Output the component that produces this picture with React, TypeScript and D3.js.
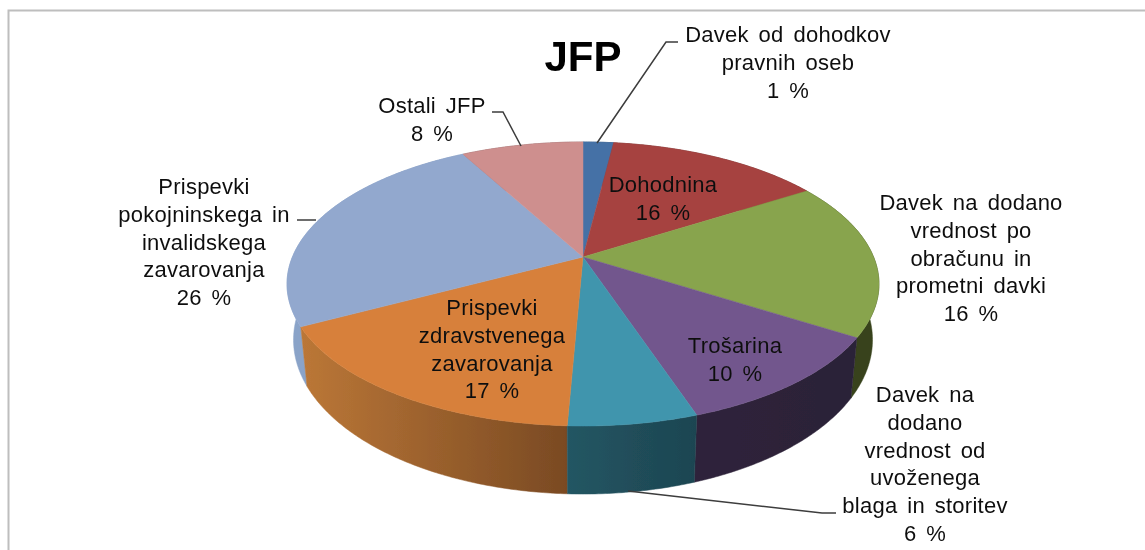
import * as d3 from 'd3';
import React from 'react';

const WIDTH = 1145;
const HEIGHT = 550;

const title = 'JFP';

const categories = [
  'Davek od dohodkov pravnih oseb',
  'Dohodnina',
  'Davek na dodano vrednost po obračunu in prometni davki',
  'Trošarina',
  'Davek na dodano vrednost od uvoženega blaga in storitev',
  'Prispevki zdravstvenega zavarovanja',
  'Prispevki pokojninskega in invalidskega zavarovanja',
  'Ostali JFP'
];

// printed on the labels
const percents = [1, 16, 16, 10, 6, 17, 26, 8];

// the slices as drawn do not quite follow the printed numbers, so these are read off the rim
const sliceShares = [2, 14.1, 17.8, 10.9, 5.9, 16.6, 24.7, 8];

const labelLines = [
  ['Davek od dohodkov', 'pravnih oseb'],
  ['Dohodnina'],
  ['Davek na dodano', 'vrednost po', 'obračunu in', 'prometni davki'],
  ['Trošarina'],
  ['Davek na', 'dodano', 'vrednost od', 'uvoženega', 'blaga in storitev'],
  ['Prispevki', 'zdravstvenega', 'zavarovanja'],
  ['Prispevki', 'pokojninskega in', 'invalidskega', 'zavarovanja'],
  ['Ostali JFP']
];

const topColors = ['#4471a6', '#a64341', '#88a44d', '#72578d', '#4095ad', '#d7803b', '#92a8ce', '#ce8f8e'];
const wallColors = [
  ['#2a4566', '#2a4566'],
  ['#662927', '#662927'],
  ['#3e4c1f', '#37431b'],
  ['#2f243b', '#2b2137'],
  ['#235663', '#1d4551'],
  ['#bb7737', '#7a4a23'],
  ['#8aa3c8', '#7c94b8'],
  ['#7e5756', '#7e5756']
];

// label placement: centre x and first baseline
const labelX = [788, 663, 971, 735, 925, 492, 204, 432];
const labelY = [42, 192, 210, 353, 402, 315, 194, 113];
const LINE_HEIGHT = 27.8;

const leaderLines = [
  [[678, 42], [666, 42], [597, 143]],
  [[836, 513], [822, 513], [628, 491]],
  [[297, 220], [316, 220]],
  [[492, 112], [503, 112], [521, 146]]
];

// pie apex on screen and perspective terms
const cx = 583;
const cy = 257;
const radius = 290.6;
const tiltY = 136.9;
const perspective = -0.19;

type Pt = [number, number];

const projectTop = (theta: number): Pt => {
  const u = Math.sin(theta);
  const v = -Math.cos(theta);
  const w = 1 + perspective * v;
  return [cx + (u * radius) / w, cy + (tiltY * v) / w];
};

const projectBottom = (theta: number): Pt => {
  const [x, y] = projectTop(theta);
  return [cx + (x - cx) * 0.978, y + 53.5 + 0.086 * (y - cy)];
};

const pieLayout = d3.pie<number>().sort(null).value((d) => d);
const arcs = pieLayout(sliceShares);
const path = d3.line<Pt>();

const sampleAngles = (start: number, end: number) => {
  const steps = Math.max(2, Math.ceil((end - start) / 0.01));
  return d3.range(steps + 1).map((i) => start + ((end - start) * i) / steps);
};

const topPath = (start: number, end: number) => {
  const rim = sampleAngles(start, end).map(projectTop);
  return path([[cx, cy], ...rim]) + 'Z';
};

const wallPath = (start: number, end: number) => {
  const angles = sampleAngles(start, end);
  return path([...angles.map(projectTop), ...angles.reverse().map(projectBottom)]) + 'Z';
};

// back walls first, so the nearer ones paint over them
const wallOrder = d3.range(arcs.length).sort((a, b) => {
  const mid = (i: number) => (arcs[i].startAngle + arcs[i].endAngle) / 2;
  return -Math.cos(mid(a)) - -Math.cos(mid(b));
});

const fontFamily = '"Liberation Sans", Arial, sans-serif';

export default function App() {
  return (
    <svg
      width={WIDTH}
      height={HEIGHT}
      style={{position: 'absolute', left: 0, top: 0, display: 'block', background: '#fff'}}>
      <defs>
        <filter id="soften" x="0" y="0" width="100%" height="100%">
          <feGaussianBlur stdDeviation={0.45} />
        </filter>
        {arcs.map((arc, i) => {
          const [x1] = projectTop(arc.startAngle);
          const [x2] = projectTop(arc.endAngle);
          return (
            <linearGradient
              key={i}
              id={`wall-${i}`}
              gradientUnits="userSpaceOnUse"
              x1={Math.min(x1, x2)}
              x2={Math.max(x1, x2)}
              y1={0}
              y2={0}>
              <stop offset="0%" stopColor={wallColors[i][0]} />
              <stop offset="100%" stopColor={wallColors[i][1]} />
            </linearGradient>
          );
        })}
      </defs>

      <g filter="url(#soften)">
        <rect width={WIDTH} height={HEIGHT} fill="#fff" />
        <path d={`M${WIDTH},10.5H8.5V${HEIGHT}`} fill="none" stroke="#bebebe" strokeWidth={2} />

        {wallOrder.map((i) => (
          <path
            key={i}
            d={wallPath(arcs[i].startAngle, arcs[i].endAngle)}
            fill={`url(#wall-${i})`}
            stroke={`url(#wall-${i})`}
            strokeWidth={0.5}
          />
        ))}
        {arcs.map((arc, i) => (
          <path
            key={i}
            d={topPath(arc.startAngle, arc.endAngle)}
            fill={topColors[i]}
            stroke={topColors[i]}
            strokeWidth={0.5}
          />
        ))}

        {leaderLines.map((points, i) => (
          <path
            key={i}
            d={path(points as Pt[]) as string}
            fill="none"
            stroke="#3c3c3c"
            strokeWidth={1.5}
          />
        ))}

        <text
          x={cx}
          y={70.5}
          textAnchor="middle"
          fontFamily={fontFamily}
          fontSize={42}
          fontWeight="bold"
          fill="#000">
          {title}
        </text>

        {categories.map((category, i) => (
          <text
            key={category}
            textAnchor="middle"
            fontFamily={fontFamily}
            fontSize={22}
            letterSpacing={0.25}
            wordSpacing={3.5}
            fill="#111">
            {[...labelLines[i], `${percents[i]} %`].map((line, j) => (
              <tspan key={j} x={labelX[i]} y={labelY[i] + j * LINE_HEIGHT}>
                {line}
              </tspan>
            ))}
          </text>
        ))}
      </g>
    </svg>
  );
}
